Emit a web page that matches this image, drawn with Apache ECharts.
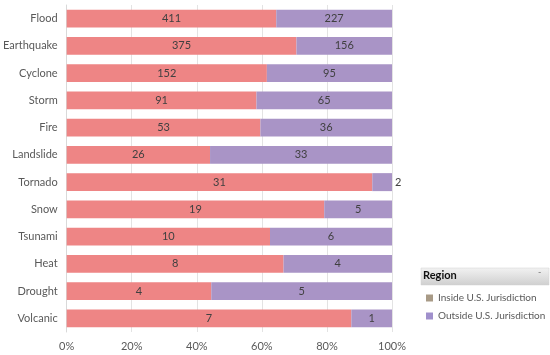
<!DOCTYPE html>
<html><head><meta charset="utf-8">
<script src="https://cdn.jsdelivr.net/npm/echarts@6/dist/echarts.min.js"></script>
<style>html,body{margin:0;padding:0;background:#fff}#c{width:550px;height:355px}</style>
</head><body><div id="c"></div>
<script>
var categories = ['Flood','Earthquake','Cyclone','Storm','Fire','Landslide','Tornado','Snow','Tsunami','Heat','Drought','Volcanic'];
var insideVals = [411,375,152,91,53,26,31,19,10,8,4,7];
var outsideVals = [227,156,95,65,36,33,2,5,6,4,5,1];
var xTicks = ['0%','20%','40%','60%','80%','100%'];

var FONT = 'Lato';
var chart = echarts.init(document.getElementById('c'));
function pct(a, i){ return a[i] / (insideVals[i] + outsideVals[i]) * 100; }
var inData = categories.map(function(c,i){ return {value: pct(insideVals,i), raw: insideVals[i]}; });
var outData = categories.map(function(c,i){
  var d = {value: pct(outsideVals,i), raw: outsideVals[i]};
  if (c === 'Tornado') d.label = {position: 'right', distance: 3};
  return d;
});
var labelFmt = function(p){ return p.data.raw; };
chart.setOption({
  animation: false,
  grid: {left: 63, right: 158, top: 5, bottom: 23},
  xAxis: {
    type: 'value', min: 0, max: 100, interval: 20,
    axisLine: {show: false}, axisTick: {show: false},
    splitLine: {lineStyle: {color: '#e3e3e3'}},
    axisLabel: {color: '#595959', fontFamily: FONT, fontSize: 11, margin: 9,
      formatter: function(v){ return xTicks[Math.round(v/20)]; }}
  },
  yAxis: {
    type: 'category', data: categories, inverse: true,
    axisLine: {lineStyle: {color: '#d9d9d9'}}, axisTick: {show: false},
    axisLabel: {color: '#595959', fontFamily: FONT, fontSize: 11, margin: 9}
  },
  legend: {
    orient: 'vertical', left: 421, top: 288, itemGap: 8, padding: 5,
    itemWidth: 7, itemHeight: 7, icon: 'rect',
    textStyle: {color: '#595959', fontFamily: FONT, fontSize: 10},
    data: [
      {name: 'Inside U.S. Jurisdiction', itemStyle: {color: '#a89a86'}},
      {name: 'Outside U.S. Jurisdiction', itemStyle: {color: '#a090cc'}}
    ]
  },
  graphic: [
    {type: 'rect', shape: {x: 421, y: 268, width: 128, height: 17},
     style: {fill: {type: 'linear', x: 0, y: 0, x2: 0, y2: 1,
       colorStops: [{offset: 0, color: '#f2f2f2'}, {offset: 1, color: '#cfcfcf'}]}, stroke: '#d0d0d0', lineWidth: 0.5}},
    {type: 'text', x: 423, y: 270, style: {text: 'Region', font: 'bold 11px "Lato"', fill: '#111'}},
    {type: 'text', x: 538, y: 268, style: {text: '-', font: '9px "Lato"', fill: '#777'}}
  ],
  series: [
    {name: 'Inside U.S. Jurisdiction', type: 'bar', stack: 'a', data: inData,
     barCategoryGap: '34%',
     itemStyle: {color: '#ee8585'},
     label: {show: true, position: 'inside', formatter: labelFmt, color: '#404040', fontFamily: FONT, fontSize: 11}},
    {name: 'Outside U.S. Jurisdiction', type: 'bar', stack: 'a', data: outData,
     itemStyle: {color: '#a994c6'},
     label: {show: true, position: 'inside', formatter: labelFmt, color: '#404040', fontFamily: FONT, fontSize: 11}}
  ]
});
</script></body></html>
